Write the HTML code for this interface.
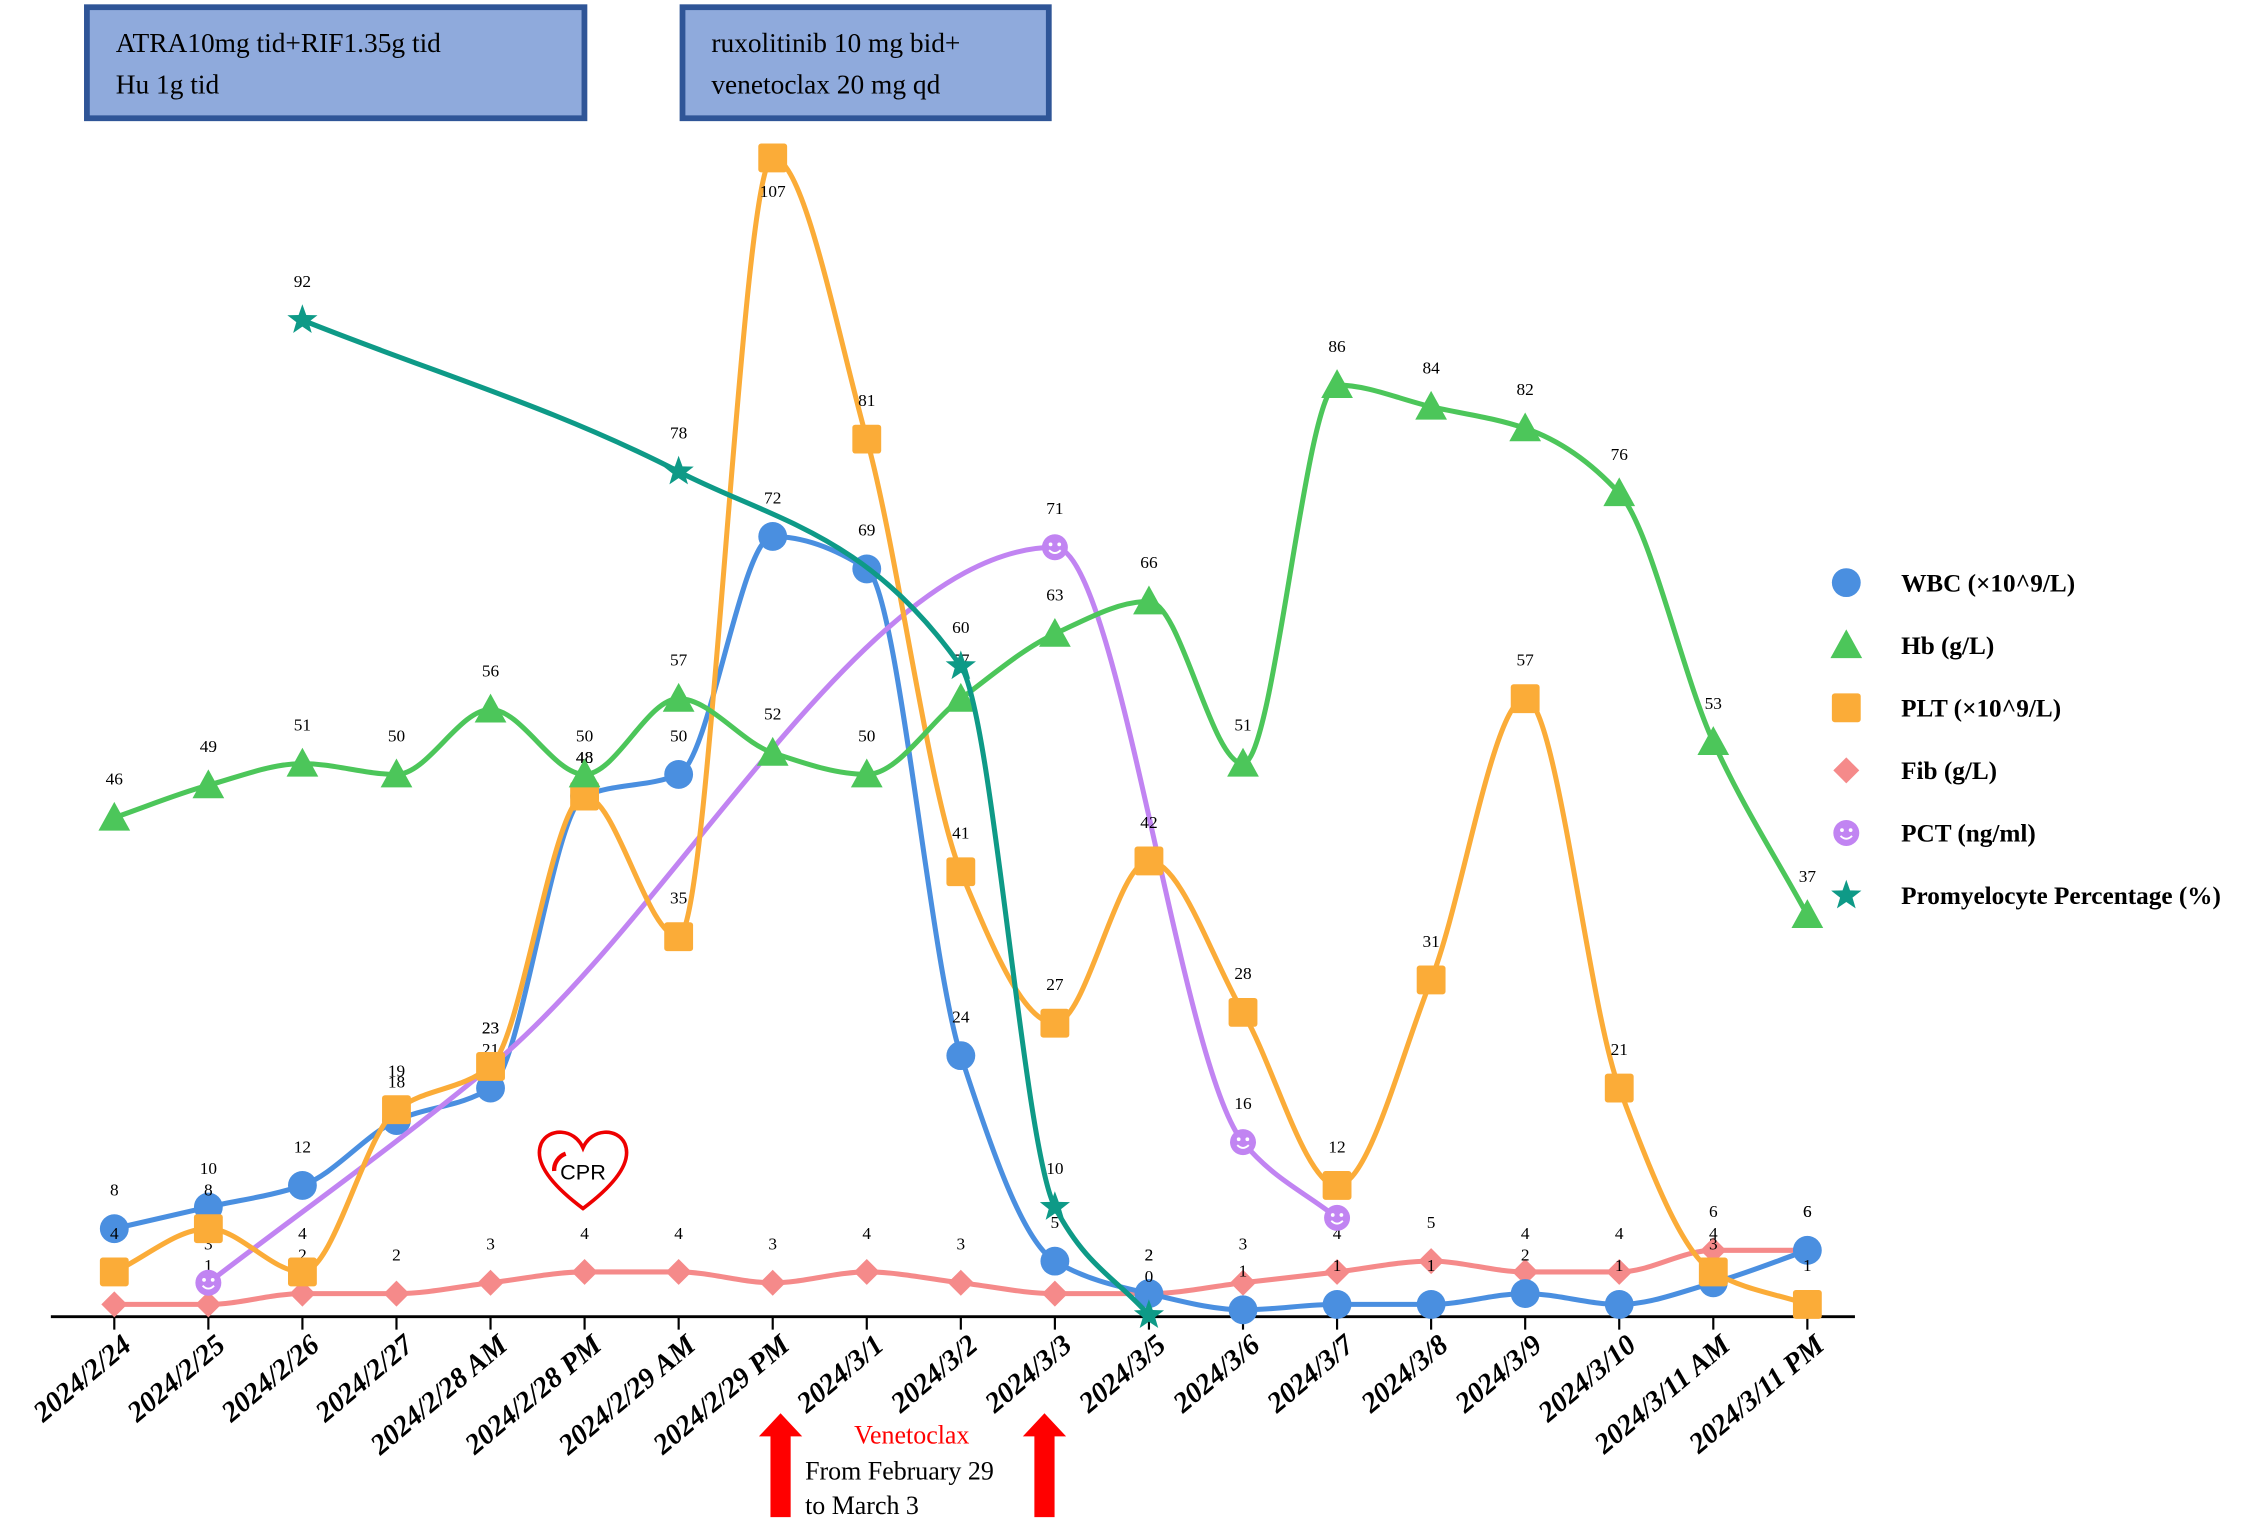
<!DOCTYPE html>
<html><head><meta charset="utf-8"><style>
html,body{margin:0;padding:0;background:#fff;}
svg{display:block;}
text{font-family:"Liberation Serif",serif;}
</style></head><body>
<svg id="chart" width="2262" height="1520" viewBox="0 0 1568 1054" xmlns="http://www.w3.org/2000/svg">
<g>
<rect x="60" y="5" width="345" height="77" fill="#8faadc" stroke="#2f5597" stroke-width="4"/>
<text x="80" y="36" font-size="19">ATRA10mg tid+RIF1.35g tid</text>
<text x="80" y="65" font-size="19">Hu 1g tid</text>
</g>
<g>
<rect x="473" y="5" width="254" height="77" fill="#8faadc" stroke="#2f5597" stroke-width="4"/>
<text x="493" y="36" font-size="19">ruxolitinib 10 mg bid+</text>
<text x="493" y="65" font-size="19">venetoclax 20 mg qd</text>
</g>
<g id="axis"></g>
<g id="series"></g>
<g id="legend"></g>
<g>
<path d="M404,838 C380,820 370,805 375,793 C380,782 398,782 404,796 C410,782 428,782 433,793 C438,805 428,820 404,838 Z" fill="none" stroke="#e00" stroke-width="2.5"/>
<path d="M392,800 A12,12 0 0 0 384,812" fill="none" stroke="#e00" stroke-width="3"/>
<text x="404" y="818" font-size="15" text-anchor="middle" style="font-family:'Liberation Sans',sans-serif">CPR</text>
</g>
<g>
<polygon points="541,980 556,996 548,996 548,1052 534,1052 534,996 526,996" fill="#f00"/>
<polygon points="724,980 739,996 731,996 731,1052 717,1052 717,996 709,996" fill="#f00"/>
<text x="632" y="1001" font-size="18" fill="#f00" text-anchor="middle">Venetoclax</text>
<text x="558" y="1026" font-size="18">From February 29</text>
<text x="558" y="1050" font-size="18">to March 3</text>
</g>
</svg>
<script>
const categories=["2024/2/24","2024/2/25","2024/2/26","2024/2/27","2024/2/28 AM","2024/2/28 PM","2024/2/29 AM","2024/2/29 PM","2024/3/1","2024/3/2","2024/3/3","2024/3/5","2024/3/6","2024/3/7","2024/3/8","2024/3/9","2024/3/10","2024/3/11 AM","2024/3/11 PM"];
const wbc=[8,10,12,18,21,48,50,72,69,24,5,2,0.5,1,1,2,1,3,6];
const hb=[46,49,51,50,56,50,57,52,50,57,63,66,51,86,84,82,76,53,37];
const plt=[4,8,4,19,23,48,35,107,81,41,27,42,28,12,31,57,21,4,1];
const fib=[1,1,2,2,3,4,4,3,4,3,2,2,3,4,5,4,4,6,6];
const pct=[null,3,null,null,23,null,null,null,null,null,71,null,16,9,null,null,null,null,null];
const promyelocyte=[null,null,92,null,null,null,78,null,null,60,10,0,null,null,null,null,null,null,null];
const legendLabels=["WBC (×10^9/L)","Hb (g/L)","PLT (×10^9/L)","Fib (g/L)","PCT (ng/ml)","Promyelocyte Percentage (%)"];

const NS="http://www.w3.org/2000/svg";
const X0=79,X1=1253,Y0=912,PPU=7.5;
function xs(i){return X0+i*(X1-X0)/(categories.length-1);}
function ys(v){return Y0-v*PPU;}
function mk(tag,attrs,parent){const e=document.createElementNS(NS,tag);for(const k in attrs)e.setAttribute(k,attrs[k]);parent.appendChild(e);return e;}
const axis=document.getElementById('axis');
const series=document.getElementById('series');
const legend=document.getElementById('legend');
const axLine=mk('line',{x1:35,y1:913,x2:1286,y2:913,stroke:'#000','stroke-width':2},axis);


categories.forEach((c,i)=>{
  const x=xs(i);
  const t=mk('line',{x1:x,y1:913,x2:x,y2:922,stroke:'#000','stroke-width':1.5},axis);
  
  
  const l=mk('text',{x:x+4,y:924,'font-size':20,'font-weight':'bold','font-style':'italic','text-anchor':'end',transform:`rotate(-40 ${x+4} 924)`,'dominant-baseline':'hanging'},axis);
  l.textContent=c;
  
  
});
function mono(pts){
  const n=pts.length;if(n<2)return '';
  const dx=[],s=[],m=[];
  for(let i=0;i<n-1;i++){dx[i]=pts[i+1][0]-pts[i][0];s[i]=(pts[i+1][1]-pts[i][1])/dx[i];}
  m[0]=s[0];m[n-1]=s[n-2];
  for(let i=1;i<n-1;i++){
    if(s[i-1]*s[i]<=0)m[i]=0;
    else{const w1=2*dx[i]+dx[i-1],w2=dx[i]+2*dx[i-1];m[i]=(w1+w2)/(w1/s[i-1]+w2/s[i]);}
  }
  let d=`M${pts[0][0]},${pts[0][1]}`;
  for(let i=0;i<n-1;i++){
    const h=dx[i]/3;
    d+=` C${pts[i][0]+h},${pts[i][1]+m[i]*h} ${pts[i+1][0]-h},${pts[i+1][1]-m[i+1]*h} ${pts[i+1][0]},${pts[i+1][1]}`;
  }
  return d;
}
function marker(type,x,y,color,g){
  let e;
  if(type==='circle')e=mk('circle',{cx:x,cy:y,r:10,fill:color},g);
  else if(type==='tri')e=mk('polygon',{points:`${x},${y-11} ${x+11},${y+9} ${x-11},${y+9}`,fill:color},g);
  else if(type==='square')e=mk('rect',{x:x-10,y:y-10,width:20,height:20,rx:2,fill:color},g);
  else if(type==='diamond')e=mk('polygon',{points:`${x},${y-9} ${x+9},${y} ${x},${y+9} ${x-9},${y}`,fill:color},g);
  else if(type==='smile'){e=mk('g',{},g);mk('circle',{cx:x,cy:y,r:9,fill:color},e);mk('circle',{cx:x-3,cy:y-2,r:1.3,fill:'#fff'},e);mk('circle',{cx:x+3,cy:y-2,r:1.3,fill:'#fff'},e);mk('path',{d:`M${x-4},${y+2} Q${x},${y+6} ${x+4},${y+2}`,stroke:'#fff','stroke-width':1.3,fill:'none'},e);}
  else {let p=[];for(let k=0;k<10;k++){const r=k%2?4.5:11;const a=-Math.PI/2+k*Math.PI/5;p.push((x+r*Math.cos(a)).toFixed(1)+','+(y+r*Math.sin(a)).toFixed(1));}e=mk('polygon',{points:p.join(' '),fill:color},g);}
  return e;
}
const defs=[
 {name:'wbc',data:wbc,color:'#4a8fe0',type:'circle'},
 {name:'hb',data:hb,color:'#4cc65a',type:'tri'},
 {name:'plt',data:plt,color:'#fbac38',type:'square'},
 {name:'fib',data:fib,color:'#f58a8a',type:'diamond'},
 {name:'pct',data:pct,color:'#c184f2',type:'smile'},
 {name:'promyelocyte',data:promyelocyte,color:'#0e9a87',type:'star'}
];
const order=[3,0,4,2,1,5];
order.forEach(si=>{
  const s=defs[si];
  const g=mk('g',{},series);
  
  
  const pts=[];
  s.data.forEach((v,i)=>{if(v!==null)pts.push([xs(i),ys(v)]);});
  const line=mk('path',{d:mono(pts),fill:'none',stroke:s.color,'stroke-width':3.5},g);
  
  
  s.data.forEach((v,i)=>{
    if(v===null)return;
    const x=xs(i),y=ys(v);
    const m=marker(s.type,x,y,s.color,g);
    
    
    const ly=(v>100)?y+27:y-23;
    const t=mk('text',{x:x,y:ly,'font-size':12,'text-anchor':'middle'},g);
    t.textContent=Math.round(v);
    
    
  });
});
legendLabels.forEach((lab,i)=>{
  const s=defs[i];const y=404+i*43.4;
  const g=mk('g',{},legend);
  
  
  marker(s.type,1280,y,s.color,g);
  const t=mk('text',{x:1318,y:y+6,'font-size':17.5,'font-weight':'bold'},g);
  t.textContent=lab;
});
</script>
</body></html>
